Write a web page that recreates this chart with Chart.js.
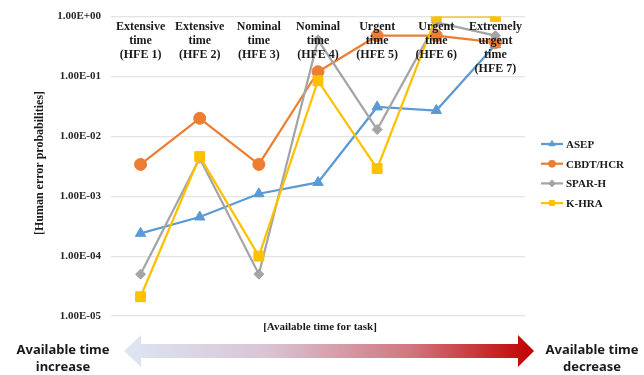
<!DOCTYPE html>
<html>
<head>
<meta charset="utf-8">
<script src="https://cdn.jsdelivr.net/npm/chart.js@4/dist/chart.umd.min.js"></script>
<style>
  html, body { margin: 0; padding: 0; background: #ffffff; }
  #wrap { position: relative; width: 644px; height: 375px; }
</style>
</head>
<body>
<div id="wrap"><canvas id="chart" width="644" height="375"></canvas></div>
<script>
// Human error events, ordered from most to least available time
const categories = [
  ['Extensive', 'time', '(HFE 1)'],
  ['Extensive', 'time', '(HFE 2)'],
  ['Nominal', 'time', '(HFE 3)'],
  ['Nominal', 'time', '(HFE 4)'],
  ['Urgent', 'time', '(HFE 5)'],
  ['Urgent', 'time', '(HFE 6)'],
  ['Extremely', 'urgent', 'time', '(HFE 7)']
];

// Human error probabilities estimated by each method
const asep    = [2.4e-4, 4.5e-4, 1.1e-3, 1.7e-3, 3.1e-2, 2.7e-2, 3.4e-1];
const cbdtHcr = [3.4e-3, 2.0e-2, 3.4e-3, 1.2e-1, 4.8e-1, 4.8e-1, 3.7e-1];
const sparH   = [5.0e-5, 4.3e-3, 5.0e-5, 4.1e-1, 1.3e-2, 8.0e-1, 4.8e-1];
const kHra    = [2.1e-5, 4.6e-3, 1.0e-4, 8.5e-2, 2.9e-3, 1.0e+0, 1.0e+0];

const seriesNames = ['ASEP', 'CBDT/HCR', 'SPAR-H', 'K-HRA'];
const yTickValues = [1e0, 1e-1, 1e-2, 1e-3, 1e-4, 1e-5];

const axisTitle = '[Human error probabilities]';
const xAxisTitle = '[Available time for task]';
const leftNote = ['Available time', 'increase'];
const rightNote = ['Available time', 'decrease'];

const colors = ['#5b9bd5', '#ed7d31', '#a5a5a5', '#ffc000'];
const styles = ['triangle', 'circle', 'rectRot', 'rect'];
const radii = [6, 6, 5, 7];
const serif = '"Liberation Serif", "Times New Roman", serif';
const sans = '"Noto Sans", "Open Sans", sans-serif';

function fmtSci(v) {
  const e = Math.round(Math.log10(v));
  const s = e < 0 ? '-' : '+';
  return '1.00E' + s + String(Math.abs(e)).padStart(2, '0');
}

const allSeries = [asep, cbdtHcr, sparH, kHra];
const datasets = allSeries.map((vals, i) => ({
  label: seriesNames[i],
  data: vals,
  borderColor: colors[i],
  backgroundColor: colors[i],
  borderWidth: 2.25,
  pointStyle: styles[i],
  pointRadius: radii[i],
  pointHoverRadius: radii[i],
  pointBorderWidth: 1,
  tension: 0,
  order: allSeries.length - 1 - i
}));

// Category captions, legend, axis title and the time arrow
const extras = {
  id: 'extras',
  afterDatasetsDraw(chart) {
    const ctx = chart.ctx;
    const xs = chart.scales.x;
    const area = chart.chartArea;
    ctx.save();

    // category captions inside the top of the plot
    ctx.fillStyle = '#1a1a1a';
    ctx.font = 'bold 12px ' + serif;
    ctx.textAlign = 'center';
    ctx.textBaseline = 'middle';
    categories.forEach((lines, i) => {
      const x = xs.getPixelForValue(i);
      lines.forEach((t, j) => ctx.fillText(t, x, 27 + j * 14));
    });

    // legend: short line with the series marker, then its name
    const lx = 541, ly = 144, step = 19.7;
    seriesNames.forEach((name, i) => {
      const y = ly + i * step;
      ctx.strokeStyle = colors[i];
      ctx.lineWidth = 2.25;
      ctx.beginPath();
      ctx.moveTo(lx, y);
      ctx.lineTo(lx + 22, y);
      ctx.stroke();
      ctx.fillStyle = colors[i];
      ctx.lineWidth = 1;
      Chart.helpers.drawPoint(ctx, {
        pointStyle: styles[i], radius: 3.5, rotation: 0, borderWidth: 1
      }, lx + 11, y);
      ctx.fillStyle = '#1a1a1a';
      ctx.font = 'bold 11px ' + serif;
      ctx.textAlign = 'left';
      ctx.fillText(name, lx + 25, y + 1);
    });

    // y-axis title
    ctx.save();
    ctx.translate(40, 163);
    ctx.rotate(-Math.PI / 2);
    ctx.fillStyle = '#1a1a1a';
    ctx.font = 'bold 12px ' + serif;
    ctx.textAlign = 'center';
    ctx.fillText(axisTitle, 0, 0);
    ctx.restore();

    // x-axis caption
    ctx.font = 'bold 11px ' + serif;
    ctx.textAlign = 'center';
    ctx.fillText(xAxisTitle, (area.left + area.right) / 2 + 2, 327);

    // double-headed gradient arrow
    const x0 = 124, x1 = 534, yc = 351;
    const grad = ctx.createLinearGradient(x0, 0, x1, 0);
    grad.addColorStop(0, '#dde6f4');
    grad.addColorStop(0.35, '#d9c4d4');
    grad.addColorStop(0.7, '#d1767e');
    grad.addColorStop(1, '#c00000');
    ctx.fillStyle = grad;
    ctx.beginPath();
    ctx.moveTo(x0, yc);
    ctx.lineTo(141, 335);
    ctx.lineTo(141, 344);
    ctx.lineTo(518, 344);
    ctx.lineTo(518, 335);
    ctx.lineTo(x1, yc);
    ctx.lineTo(518, 367);
    ctx.lineTo(518, 358);
    ctx.lineTo(141, 358);
    ctx.lineTo(141, 367);
    ctx.closePath();
    ctx.fill();

    // arrow end notes
    ctx.fillStyle = '#1a1a1a';
    ctx.font = 'bold 13px ' + sans;
    ctx.textAlign = 'center';
    ctx.fillText(leftNote[0], 63, 350);
    ctx.fillText(leftNote[1], 63, 367);
    ctx.fillText(rightNote[0], 592, 350);
    ctx.fillText(rightNote[1], 592, 367);

    ctx.restore();
  }
};

new Chart(document.getElementById('chart'), {
  type: 'line',
  data: {
    labels: categories.map(c => c.join(' ')),
    datasets: datasets
  },
  options: {
    responsive: false,
    animation: false,
    events: [],
    layout: { padding: { left: 0, right: 119, top: 14, bottom: 59 } },
    plugins: {
      legend: { display: false },
      tooltip: { enabled: false }
    },
    scales: {
      x: {
        display: false,
        offset: true
      },
      y: {
        type: 'logarithmic',
        min: 1e-5,
        max: 1,
        afterBuildTicks(scale) {
          scale.ticks = yTickValues.map(v => ({ value: v, major: true }));
        },
        afterFit(scale) { scale.width = 111; },
        border: { display: false },
        grid: { color: '#e3e3e3', lineWidth: 1.2, drawTicks: false },
        ticks: {
          padding: 10,
          color: '#262626',
          font: { family: serif, size: 11, weight: 'bold' },
          callback: (v) => fmtSci(v)
        }
      }
    }
  },
  plugins: [extras]
});
</script>
</body>
</html>
